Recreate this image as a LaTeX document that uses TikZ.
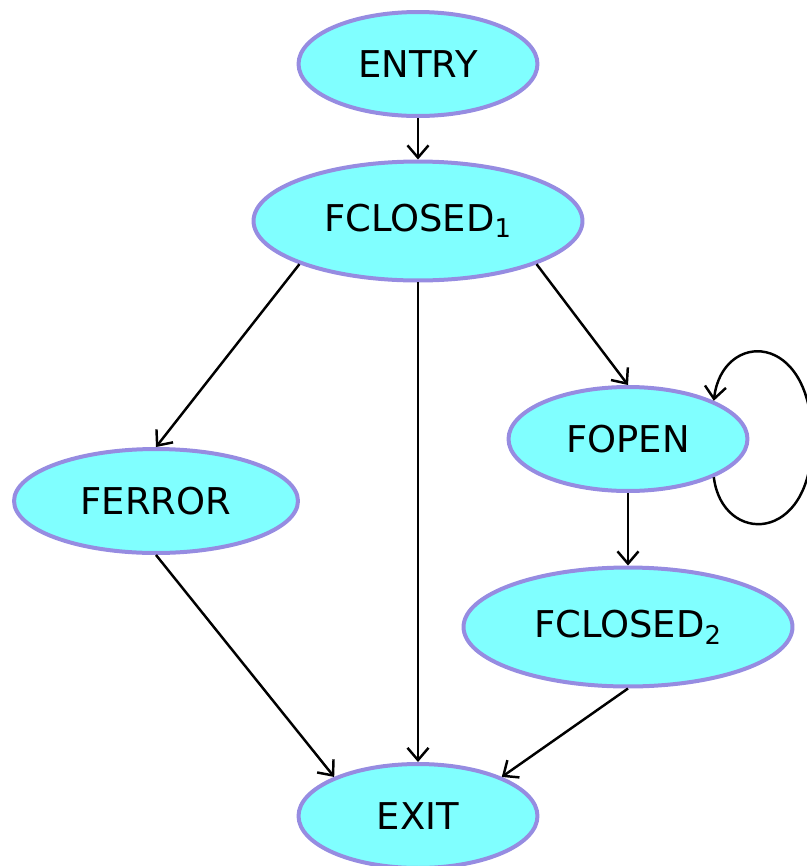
\documentclass[tikz,border=0pt]{standalone}
\usepackage{fontspec}
\setmainfont{DejaVu Sans}
\usetikzlibrary{arrows.meta,shapes.geometric}
\definecolor{nodefill}{RGB}{128,255,255}
\definecolor{nodeline}{RGB}{150,140,225}

\begin{document}
\begin{tikzpicture}[x=0.02cm, y=-0.02cm,
    cfgnode/.style={ellipse, draw=nodeline, fill=nodefill, line width=0.08cm,
        inner sep=0pt, font=\fontsize{21}{25}\selectfont},
    small/.style={minimum width=4.78cm, minimum height=2.08cm},
    wide/.style={minimum width=6.58cm, minimum height=2.38cm},
    edge/.style={-{Straight Barb[length=7pt,width=12pt]}, line width=1.4pt}]
    \useasboundingbox (0,0) rectangle (807,866);

    % Nodes
    \node[cfgnode, small] (entry) at (418,64) {ENTRY};
    \node[cfgnode, wide] (f1) at (418,221) {FCLOSED\textsubscript{1}};
    \node[cfgnode, minimum width=5.68cm, minimum height=2.08cm] (ferror) at (156,501) {FERROR};
    \node[cfgnode, small] (fopen) at (628,439) {FOPEN};
    \node[cfgnode, wide] (f2) at (628,627) {FCLOSED\textsubscript{2}};
    \node[cfgnode, small] (exit) at (418,816) {EXIT};

    % Edges
    \draw[edge] (entry) -- (f1);
    \draw[edge] (f1.200) -- (ferror.north);
    \draw[edge] (f1) -- (exit);
    \draw[edge] (f1.340) -- (fopen.north);
    \draw[edge] (fopen) -- (f2);
    \draw[edge] (ferror.south) -- (exit.155);
    \draw[edge] (f2.south) -- (exit.25);

    % Self loop on FOPEN
    \coordinate (loopright) at (812,440);
    \draw[edge] (fopen.-24) .. controls (722,545) and (812,545) .. (loopright)
        .. controls (812,330) and (722,330) .. (fopen.24);
\end{tikzpicture}
\end{document}
